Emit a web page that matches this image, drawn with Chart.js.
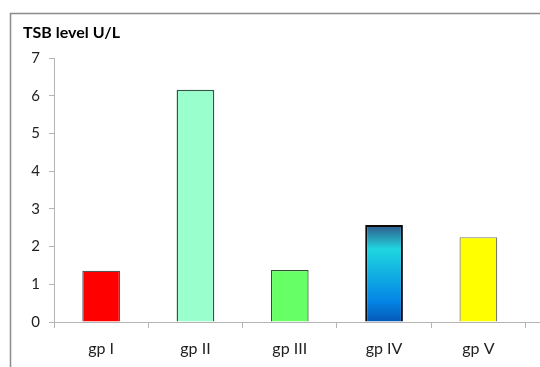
<!DOCTYPE html>
<html>
<head>
<meta charset="utf-8">
<script src="https://cdn.jsdelivr.net/npm/chart.js@4"></script>
<style>
  html, body { margin: 0; padding: 0; background: #ffffff; }
  #wrap { width: 540px; height: 367px; position: relative; }
</style>
</head>
<body>
<div id="wrap"><canvas id="c" width="540" height="367"></canvas></div>
<script>
// Groups and their TSB levels (U/L)
const groups = ['gp I', 'gp II', 'gp III', 'gp IV', 'gp V'];
const tsbLevels = [1.36, 6.16, 1.38, 2.57, 2.25];
const yTicks = [0, 1, 2, 3, 4, 5, 6, 7];
const chartTitle = 'TSB level U/L';

const fills = ['#ff0000', '#99ffcc', '#66ff66', null, '#ffff00'];
const edges = ['#555555', '#2d5a45', '#2f4f2f', '#0a0a0a', '#7a7a6a'];
const edgeWidths = [1.2, 1.5, 1.2, 2, 1.2];

function barFill(ctx) {
  const i = ctx.dataIndex;
  if (fills[i]) return fills[i];
  const chart = ctx.chart;
  const y = chart.scales.y;
  if (!y) return '#10a0e0';
  const top = y.getPixelForValue(tsbLevels[i]);
  const base = y.getPixelForValue(0);
  const g = chart.ctx.createLinearGradient(0, top, 0, base);
  g.addColorStop(0, '#30588a');
  g.addColorStop(0.25, '#1fd6e0');
  g.addColorStop(0.5, '#12b0e2');
  g.addColorStop(0.78, '#0486e6');
  g.addColorStop(1, '#0558b6');
  return g;
}

// Outer frame, title and the x-axis line running to the edge
const framePlugin = {
  id: 'frame',
  afterDraw(chart) {
    const c = chart.ctx;
    c.save();
    c.strokeStyle = '#8c8c8c';
    c.lineWidth = 1.5;
    c.beginPath();
    c.moveTo(10.5, 367);
    c.lineTo(10.5, 13.5);
    c.lineTo(540, 13.5);
    c.stroke();
    c.strokeStyle = '#b4b4b4';
    c.lineWidth = 1;
    const yb = Math.round(chart.scales.y.getPixelForValue(0)) + 0.5;
    c.beginPath();
    c.moveTo(chart.chartArea.right, yb);
    c.lineTo(540, yb);
    c.stroke();
    c.fillStyle = '#000000';
    c.font = 'bold 16px Lato, "Open Sans", sans-serif';
    c.textBaseline = 'alphabetic';
    c.textAlign = 'left';
    c.fillText(chartTitle, 23, 38);
    c.restore();
  }
};

new Chart(document.getElementById('c'), {
  type: 'bar',
  data: {
    labels: groups,
    datasets: [{
      data: tsbLevels,
      backgroundColor: barFill,
      borderColor: edges,
      borderWidth: edgeWidths,
      borderSkipped: 'bottom',
      barPercentage: 0.4,
      categoryPercentage: 1.0
    }]
  },
  options: {
    responsive: false,
    animation: false,
    events: [],
    layout: { padding: { left: 0, top: 58, right: 14.5, bottom: 0 } },
    plugins: { legend: { display: false }, tooltip: { enabled: false } },
    scales: {
      x: {
        offset: true,
        grid: {
          display: true,
          drawOnChartArea: false,
          offset: true,
          tickLength: 6,
          color: '#b4b4b4'
        },
        border: { display: true, color: '#b4b4b4', width: 1 },
        ticks: {
          color: '#222222',
          padding: 11,
          font: { family: 'Lato, "Open Sans", sans-serif', size: 16 }
        },
        afterFit(scale) { scale.height = 45; }
      },
      y: {
        min: 0,
        max: 7,
        afterBuildTicks(scale) { scale.ticks = yTicks.map(v => ({ value: v })); },
        grid: {
          display: true,
          drawOnChartArea: false,
          tickLength: 5,
          color: '#b4b4b4'
        },
        border: { display: true, color: '#b4b4b4', width: 1 },
        ticks: {
          color: '#222222',
          padding: 9,
          font: { family: 'Lato, "Open Sans", sans-serif', size: 15 }
        },
        afterFit(scale) { scale.width = 54; }
      }
    }
  },
  plugins: [framePlugin]
});
</script>
</body>
</html>
